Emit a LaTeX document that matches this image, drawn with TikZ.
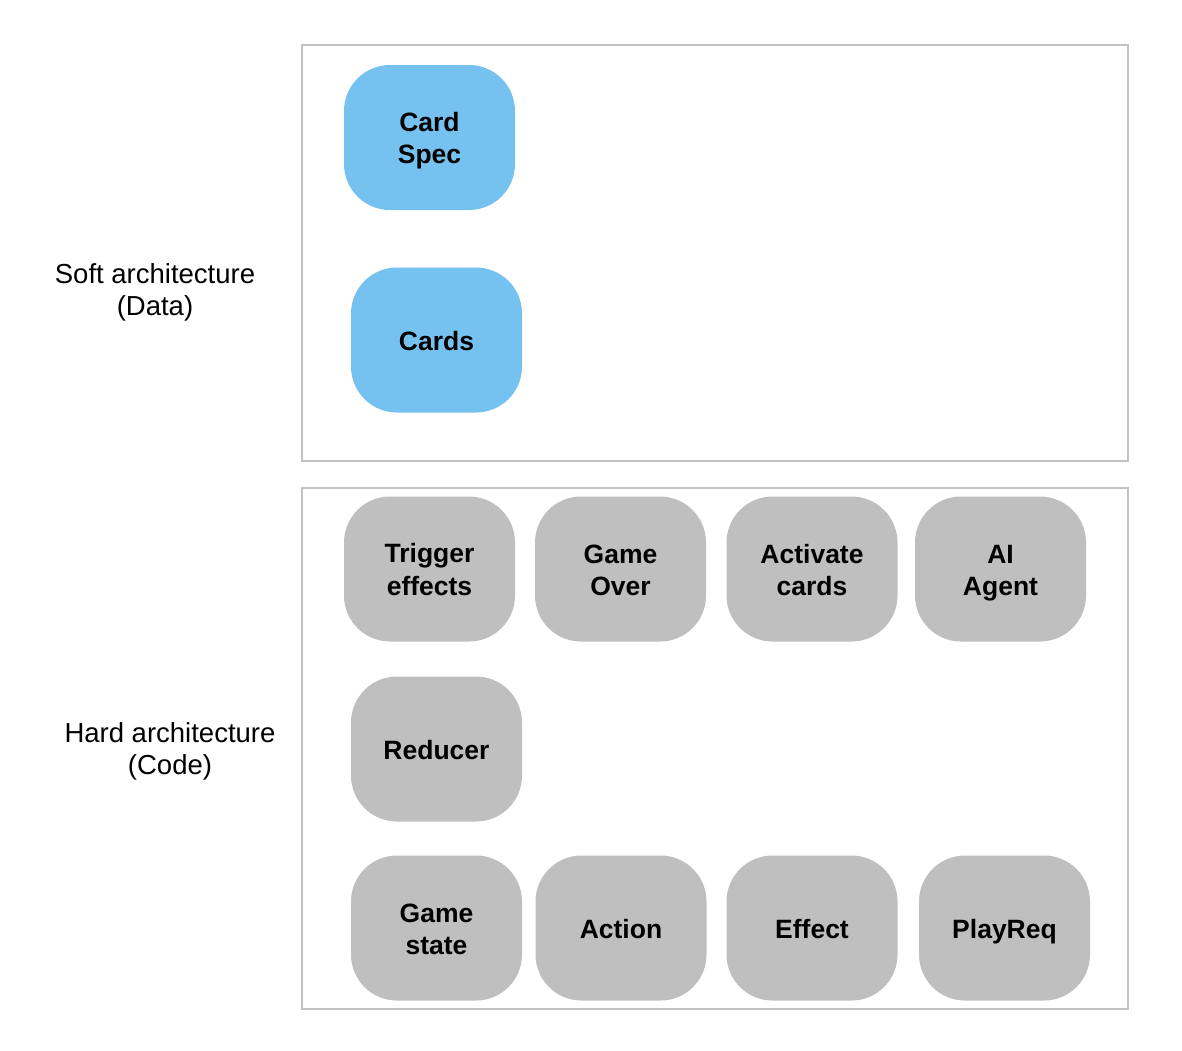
\documentclass[tikz,border=0pt]{standalone}
\usepackage{fontspec}
\setmainfont{Liberation Sans}
\newcommand\cardstrut{\rule[-5.6pt]{0pt}{32pt}}
\begin{document}
\begin{tikzpicture}[x=1pt,y=-1pt,
  frame/.style={draw=framegray,line width=2.5pt},
  card/.style={rectangle,rounded corners=46pt,minimum width=171pt,minimum height=145pt,inner sep=0pt,align=center,
    font=\fontsize{26.5}{32}\selectfont\bfseries,text=black},
  bluecard/.style={card,fill=cardblue},
  graycard/.style={card,fill=cardgray},
  sidelabel/.style={align=center,inner sep=0pt,font=\fontsize{27.5}{32}\selectfont,text=black}]
\definecolor{framegray}{HTML}{C2C2C2}
\definecolor{cardblue}{HTML}{75C2F0}
\definecolor{cardgray}{HTML}{BFBFBF}
\useasboundingbox[fill=white] (0,0) rectangle (1182,1050);
\draw[frame] (302,45) rectangle (1128,461);
\draw[frame] (302,488) rectangle (1128,1009);
\node[sidelabel] (soft) at (155,293) {\strut Soft architecture\\\strut (Data)};
\node[sidelabel] (hard) at (170,752) {\strut Hard architecture\\\strut (Code)};
\node[bluecard] (spec) at (429.5,137.5) {\cardstrut Card\\\cardstrut Spec};
\node[bluecard] (cards) at (436.5,340) {\cardstrut Cards};
\node[graycard] (trig) at (429.5,569) {\cardstrut Trigger\\\cardstrut effects};
\node[graycard] (over) at (620.5,569) {\cardstrut Game\\\cardstrut Over};
\node[graycard] (act) at (812,569) {\cardstrut Activate\\\cardstrut cards};
\node[graycard] (ai) at (1000.5,569) {\cardstrut AI\\\cardstrut Agent};
\node[graycard] (red) at (436.5,749) {\cardstrut Reducer};
\node[graycard] (state) at (436.5,928) {\cardstrut Game\\\cardstrut state};
\node[graycard] (action) at (621,928) {\cardstrut Action};
\node[graycard] (effect) at (812,928) {\cardstrut Effect};
\node[graycard] (req) at (1004.5,928) {\cardstrut PlayReq};
\end{tikzpicture}
\end{document}
